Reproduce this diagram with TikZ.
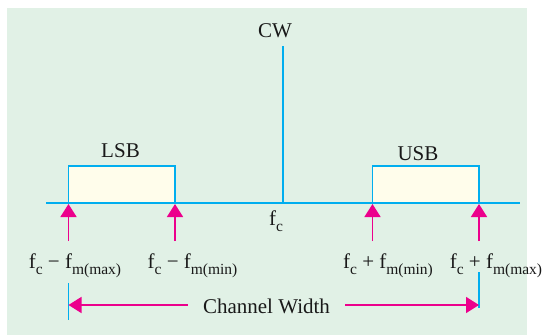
\documentclass[tikz,border=0pt]{standalone}
\usepackage{fontspec}
\setmainfont{Liberation Serif}
\newfontfamily\tmsfont{Liberation Serif}
\usetikzlibrary{arrows.meta}
\definecolor{bggreen}{RGB}{225,241,230}
\definecolor{lineblue}{RGB}{0,174,239}
\definecolor{mag}{RGB}{236,0,140}
\definecolor{boxfill}{RGB}{255,253,235}
\newcommand\lowsub[1]{\raisebox{-0.32em}{\fontsize{15.5}{15.5}\selectfont #1}}
\begin{document}
\begin{tikzpicture}[x=1pt,y=-1pt,
  txt/.style={inner sep=0pt,font=\tmsfont\fontsize{21}{24}\selectfont,text=black!90},
  bline/.style={draw=lineblue,line width=1.6pt},
  band/.style={draw=lineblue,line width=1.6pt,fill=boxfill},
  marrow/.style={draw=mag,line width=1.6pt,-{Triangle[width=16pt,length=13pt]}}]
\useasboundingbox (0,0) rectangle (547,335);
\fill[bggreen] (7,8) rectangle (527,335);
% boxes
\draw[band] (68.5,166) rectangle (175,203);
\draw[band] (372.5,166) rectangle (479,203);
% axis and carrier
\coordinate (axL) at (46,203);
\coordinate (axR) at (520,203);
\coordinate (fcpt) at (283,203);
\coordinate (cwtop) at (283,46);
\draw[bline] (axL) -- (axR);
\draw[bline] (fcpt) -- (cwtop);
% labels
\node[txt,anchor=base] (cw) at (275,37) {CW};
\node[txt,anchor=base] (lsb) at (120.5,157) {LSB};
\node[txt,anchor=base] (usb) at (418,160) {USB};
\node[txt,anchor=base] (fc) at (276,225) {f\lowsub{c}};
\node[txt,anchor=base] (l1) at (75,268) {f\lowsub{c} − f\lowsub{m(max)}};
\node[txt,anchor=base] (l2) at (192.5,268) {f\lowsub{c} − f\lowsub{m(min)}};
\node[txt,anchor=base] (l3) at (388,268) {f\lowsub{c} + f\lowsub{m(min)}};
\node[txt,anchor=base] (l4) at (496,268) {f\lowsub{c} + f\lowsub{m(max)}};
% up arrows
\coordinate (t1) at (68.5,241); \coordinate (h1) at (68.5,204);
\coordinate (t2) at (175,241);  \coordinate (h2) at (175,204);
\coordinate (t3) at (372.5,241); \coordinate (h3) at (372.5,204);
\coordinate (t4) at (479,241);  \coordinate (h4) at (479,204);
\draw[marrow] (t1) -- (h1);
\draw[marrow] (t2) -- (h2);
\draw[marrow] (t3) -- (h3);
\draw[marrow] (t4) -- (h4);
% channel width
\coordinate (tkLa) at (68.5,283); \coordinate (tkLb) at (68.5,320);
\coordinate (tkRa) at (479,272); \coordinate (tkRb) at (479,308);
\draw[draw=lineblue,line width=1.3pt] (tkLa) -- (tkLb);
\draw[draw=lineblue,line width=1.3pt] (tkRa) -- (tkRb);
\node[txt,inner xsep=15pt] (chan) at (266.5,306) {Channel Width};
\draw[marrow] (chan.west |- 0,305) -- (tkLa |- 0,305);
\draw[marrow] (chan.east |- 0,305) -- (tkRa |- 0,305);
\end{tikzpicture}
\end{document}
